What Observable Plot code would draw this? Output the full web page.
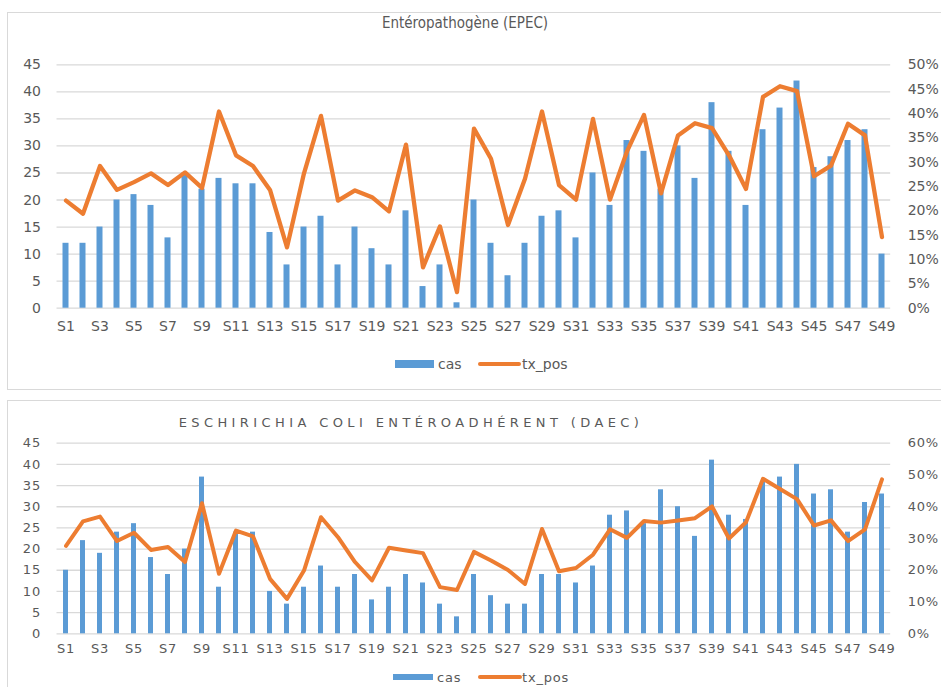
<!DOCTYPE html>
<html>
<head>
<meta charset="utf-8">
<script src="https://cdn.jsdelivr.net/npm/d3@7"></script>
<script src="https://cdn.jsdelivr.net/npm/@observablehq/plot@0.6"></script>
<style>
  html, body { margin: 0; padding: 0; background: #fff; }
  #page { position: relative; width: 941px; height: 687px; overflow: hidden; font-family: "DejaVu Sans", sans-serif; color: #595959; }
  .box { position: absolute; border: 1.5px solid #d9d9d9; box-sizing: border-box; }
  .abs { position: absolute; }
  .title1 { font-family: "DejaVu Sans Condensed", "DejaVu Sans", sans-serif; font-size: 15px; white-space: nowrap; transform: translate(-50%, -50%); }
  .title2 { font-family: "DejaVu Sans", sans-serif; font-size: 13px; letter-spacing: 4.4px; white-space: nowrap; transform: translate(-50%, -50%); }
  .leg { position: absolute; white-space: nowrap; transform: translateY(-50%); }
</style>
</head>
<body>
<div id="page">
  <div class="box" style="left:7px; top:12px; width:960px; height:378px;"></div>
  <div class="box" style="left:7px; top:400px; width:960px; height:310px;"></div>
  <div class="abs title1" style="left:465px; top:23px;">Entéropathogène (EPEC)</div>
  <div class="abs title2" style="left:411px; top:422px;">ESCHIRICHIA COLI ENTÉROADHÉRENT (DAEC)</div>
  <div id="c1" class="abs" style="left:0; top:40px;"></div>
  <div id="c2" class="abs" style="left:0; top:430px;"></div>
  <div id="leg1"></div>
  <div id="leg2"></div>
</div>
<script>
const weeks = ["S1","S2","S3","S4","S5","S6","S7","S8","S9","S10","S11","S12","S13","S14","S15","S16","S17","S18","S19","S20","S21","S22","S23","S24","S25","S26","S27","S28","S29","S30","S31","S32","S33","S34","S35","S36","S37","S38","S39","S40","S41","S42","S43","S44","S45","S46","S47","S48","S49"];
const weekTicks = ["S1","S3","S5","S7","S9","S11","S13","S15","S17","S19","S21","S23","S25","S27","S29","S31","S33","S35","S37","S39","S41","S43","S45","S47","S49"];

// Entéropathogène (EPEC)
const epecCas = [12,12,15,20,21,19,13,25,22,24, 23,23,14,8,15,17,8,15,11,8, 18,4,8,1,20,12,6,12,17,18, 13,25,19,31,29,22,30,24,38,29, 19,33,37,42,26,28,31,33,10];
const epecTx = [22.1,19.4,29.2,24.3,25.9,27.7,25.3,27.9,24.7,40.4, 31.4,29.2,24.3,12.5,27.7,39.5,22.1,24.2,22.8,19.9, 33.6,8.4,16.8,3.3,36.9,30.7,17.1,26.6,40.4,25.3, 22.3,38.9,22.3,32.2,39.7,23.6,35.5,38.0,37.0,31.4, 24.5,43.4,45.6,44.6,27.1,29.3,37.9,35.5,14.6];

// Eschirichia coli entéroadhérent (DAEC)
const daecCas = [15,22,19,24,26,18,14,20,37,11, 24,24,10,7,11,16,11,14,8,11, 14,12,7,4,14,9,7,7,14,14, 12,16,28,29,26,34,30,23,41,28, 27,36,37,40,33,34,24,31,33];
const daecTx = [27.7,35.4,36.9,29.2,31.8,26.4,27.3,22.6,41.1,18.9, 32.5,30.7,17.3,11.0,19.9,36.7,30.4,22.6,16.8,27.1, 26.2,25.4,14.7,13.8,25.8,23.1,20.1,15.7,33.0,19.7, 20.7,24.9,32.9,30.2,35.5,35.0,35.7,36.4,40.1,30.0, 35.1,48.8,45.6,42.4,34.1,35.7,29.2,32.9,48.6];

const leftTicks = [0,5,10,15,20,25,30,35,40,45];
const rightTicks1 = [0,5,10,15,20,25,30,35,40,45,50];
const rightTicks2 = [0,10,20,30,40,50,60];
const seriesNames = ["cas","tx_pos"];

const BLUE = "#5b9bd5", ORANGE = "#ed7d31", GRID = "#d9d9d9";

function chart({cas, tx, txMax, rightTicks, height, marginTop, marginBottom, fontSize, letterSpacing, inset, xPad, lineW}) {
  const data = weeks.map((w, i) => ({week: w, cas: cas[i], tx: tx[i]}));
  const k = 45 / txMax; // right axis maps onto left scale domain
  return Plot.plot({
    width: 941,
    height,
    marginLeft: 56.5,
    marginRight: 50.8,
    marginTop,
    marginBottom,
    style: `background: transparent; font-family: 'DejaVu Sans', sans-serif; font-size: ${fontSize}px; letter-spacing: ${letterSpacing}px; color: #595959; overflow: visible;`,
    x: {domain: weeks, padding: 0},
    y: {domain: [0, 45]},
    marks: [
      Plot.gridY(leftTicks, {stroke: GRID, strokeOpacity: 1, strokeWidth: 1.3}),
      Plot.barY(data, {x: "week", y: "cas", fill: BLUE, insetLeft: inset, insetRight: inset}),
      Plot.lineY(data, {x: "week", y: d => d.tx * k, stroke: ORANGE, strokeWidth: lineW, strokeLinejoin: "round", strokeLinecap: "round"}),
      Plot.axisY(leftTicks, {anchor: "left", tickSize: 0, tickPadding: 16, label: null}),
      Plot.axisY(rightTicks.map(t => t * k), {anchor: "right", tickSize: 0, tickPadding: 17, textAnchor: "start", tickFormat: d => Math.round(d / k) + "%", label: null}),
      Plot.axisX({ticks: weekTicks, tickSize: 0, tickPadding: xPad, label: null})
    ]
  });
}

document.getElementById("c1").appendChild(chart({
  cas: epecCas, tx: epecTx, txMax: 50, rightTicks: rightTicks1,
  height: 310, marginTop: 24.3, marginBottom: 42.3,
  fontSize: 14, letterSpacing: 0, inset: 5.5, xPad: 13, lineW: 4.3
}));
document.getElementById("c2").appendChild(chart({
  cas: daecCas, tx: daecTx, txMax: 60, rightTicks: rightTicks2,
  height: 240, marginTop: 12.7, marginBottom: 36.7,
  fontSize: 13, letterSpacing: 0.8, inset: 6, xPad: 10, lineW: 4
}));

function legend(id, y, rect, casX, line, txX, fontSize, ls, rectH) {
  const el = document.getElementById(id);
  el.innerHTML =
    `<div class="leg" style="left:${rect[0]}px; top:${y}px; width:${rect[1]-rect[0]}px; height:${rectH}px; background:${BLUE};"></div>` +
    `<div class="leg" style="left:${casX}px; top:${y}px; font-size:${fontSize}px; letter-spacing:${ls}px;">${seriesNames[0]}</div>` +
    `<div class="leg" style="left:${line[0]}px; top:${y}px; width:${line[1]-line[0]}px; height:4px; border-radius:2px; background:${ORANGE};"></div>` +
    `<div class="leg" style="left:${txX}px; top:${y}px; font-size:${fontSize}px; letter-spacing:${ls}px;">${seriesNames[1]}</div>`;
}
legend("leg1", 364, [395, 434], 438, [478, 521], 522, 14, 0, 8);
legend("leg2", 677, [393, 433], 437, [478, 522], 522, 13, 0.8, 6);
</script>
</body>
</html>
